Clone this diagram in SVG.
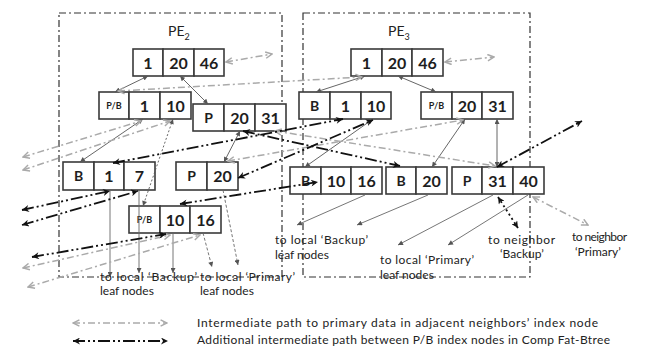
<svg xmlns="http://www.w3.org/2000/svg" width="648" height="346" viewBox="0 0 648 346">
<style>
.pe{fill:none;stroke:#333;stroke-width:1.2;stroke-dasharray:7 3 2 3}
.cell{fill:#fff;stroke:#3a3a3a;stroke-width:1.6}
.num{font-family:Lato,"Liberation Sans",sans-serif;font-weight:bold;font-size:16px;fill:#1e1e1e;text-anchor:middle}
.let{font-family:Lato,"Liberation Sans",sans-serif;font-weight:bold;font-size:14px;fill:#1e1e1e;text-anchor:middle}
.pb{font-family:Lato,"Liberation Sans",sans-serif;font-weight:bold;font-size:9px;fill:#1e1e1e;text-anchor:middle}
.lbl{font-family:Lato,"Liberation Sans",sans-serif;font-size:12px;fill:#222}
.pet{font-family:Lato,"Liberation Sans",sans-serif;font-size:14px;fill:#222}
.tree{fill:none;stroke:#555;stroke-width:0.9;marker-start:url(#ta);marker-end:url(#ta)}
.tree.d{stroke-dasharray:2 2}
.lead{fill:none;stroke:#666;stroke-width:0.9;marker-end:url(#ta)}
.lead.d{stroke-dasharray:3 2}
.gr{fill:none;stroke:#aaa;stroke-width:1.5;stroke-dasharray:7 3 2 3;marker-start:url(#ga);marker-end:url(#ga)}
.bk{fill:none;stroke:#111;stroke-width:1.8;stroke-dasharray:12 3 2 3 2 3;marker-start:url(#ba);marker-end:url(#ba)}
.bk.dot{stroke-dasharray:2 3}
</style>
<defs>
<marker id="ta" viewBox="0 0 10 10" refX="10" refY="5" markerWidth="6" markerHeight="5" markerUnits="userSpaceOnUse" orient="auto-start-reverse"><path d="M0,0 L10,5 L0,10 z" fill="#555"/></marker>
<marker id="ga" viewBox="0 0 10 10" refX="9" refY="5" markerWidth="8" markerHeight="8" markerUnits="userSpaceOnUse" orient="auto-start-reverse"><path d="M1,1 L9,5 L1,9" fill="none" stroke="#aaa" stroke-width="1.8"/></marker>
<marker id="ba" viewBox="0 0 10 10" refX="10" refY="5" markerWidth="9" markerHeight="7" markerUnits="userSpaceOnUse" orient="auto-start-reverse"><path d="M0,0 L10,5 L0,10 L3,5 z" fill="#111"/></marker>
</defs>
<rect width="648" height="346" fill="#fff"/>

<g id="pe2"><rect class="pe" x="59" y="13" width="223" height="264"/><text class="pet" x="168" y="36">PE<tspan font-size="9" dy="4">2</tspan></text></g>
<g id="pe3"><rect class="pe" x="303" y="13" width="227" height="264"/><text class="pet" x="388" y="36">PE<tspan font-size="9" dy="4">3</tspan></text></g>

<g id="n-pe2-root">
<rect class="cell" x="133" y="49" width="30" height="27"/><rect class="cell" x="163" y="49" width="31" height="27"/><rect class="cell" x="194" y="49" width="30" height="27"/>
<text class="num" x="148" y="68.5">1</text><text class="num" x="178.5" y="68.5">20</text><text class="num" x="209" y="68.5">46</text></g>
<g id="n-pe2-pb-1-10">
<rect class="cell" x="99" y="92" width="30" height="27"/><rect class="cell" x="129" y="92" width="31" height="27"/><rect class="cell" x="160" y="92" width="31" height="27"/>
<text class="pb" x="114" y="109">P/B</text><text class="num" x="144.5" y="111.5">1</text><text class="num" x="175.5" y="111.5">10</text></g>
<g id="n-pe2-p-20-31">
<rect class="cell" x="193" y="104" width="31" height="27"/><rect class="cell" x="224" y="104" width="31" height="27"/><rect class="cell" x="255" y="104" width="31" height="27"/>
<text class="let" x="208.5" y="123">P</text><text class="num" x="239.5" y="123.5">20</text><text class="num" x="270.5" y="123.5">31</text></g>
<g id="n-pe2-b-1-7">
<rect class="cell" x="63" y="162" width="31" height="28"/><rect class="cell" x="94" y="162" width="30" height="28"/><rect class="cell" x="124" y="162" width="31" height="28"/>
<text class="let" x="78.5" y="181">B</text><text class="num" x="109" y="181.5">1</text><text class="num" x="139.5" y="181.5">7</text></g>
<g id="n-pe2-p-20">
<rect class="cell" x="176" y="162" width="31" height="28"/><rect class="cell" x="207" y="162" width="31" height="28"/>
<text class="let" x="191.5" y="181">P</text><text class="num" x="222.5" y="181.5">20</text></g>
<g id="n-pe2-pb-10-16">
<rect class="cell" x="129" y="206" width="31" height="27"/><rect class="cell" x="160" y="206" width="30" height="27"/><rect class="cell" x="190" y="206" width="31" height="27"/>
<text class="pb" x="144.5" y="223">P/B</text><text class="num" x="175" y="225.5">10</text><text class="num" x="205.5" y="225.5">16</text></g>

<g id="n-pe3-root">
<rect class="cell" x="351" y="49" width="31" height="27"/><rect class="cell" x="382" y="49" width="30" height="27"/><rect class="cell" x="412" y="49" width="31" height="27"/>
<text class="num" x="366.5" y="68.5">1</text><text class="num" x="397" y="68.5">20</text><text class="num" x="427.5" y="68.5">46</text></g>
<g id="n-pe3-b-1-10">
<rect class="cell" x="299" y="92" width="31" height="27"/><rect class="cell" x="330" y="92" width="31" height="27"/><rect class="cell" x="361" y="92" width="30" height="27"/>
<text class="let" x="314.5" y="111">B</text><text class="num" x="345.5" y="111.5">1</text><text class="num" x="376" y="111.5">10</text></g>
<g id="n-pe3-pb-20-31">
<rect class="cell" x="421" y="92" width="31" height="27"/><rect class="cell" x="452" y="92" width="30" height="27"/><rect class="cell" x="482" y="92" width="31" height="27"/>
<text class="pb" x="436.5" y="109">P/B</text><text class="num" x="467" y="111.5">20</text><text class="num" x="497.5" y="111.5">31</text></g>
<g id="n-pe3-b-10-16">
<rect class="cell" x="290" y="167" width="31" height="27"/><rect class="cell" x="321" y="167" width="30" height="27"/><rect class="cell" x="351" y="167" width="31" height="27"/>
<text class="let" x="305.5" y="186">B</text><text class="num" x="336" y="186.5">10</text><text class="num" x="366.5" y="186.5">16</text></g>
<g id="n-pe3-b-20">
<rect class="cell" x="386" y="167" width="30" height="27"/><rect class="cell" x="416" y="167" width="31" height="27"/>
<text class="let" x="401" y="186">B</text><text class="num" x="431.5" y="186.5">20</text></g>
<g id="n-pe3-p-31-40">
<rect class="cell" x="452" y="167" width="30" height="27"/><rect class="cell" x="482" y="167" width="31" height="27"/><rect class="cell" x="513" y="167" width="31" height="27"/>
<text class="let" x="467" y="186">P</text><text class="num" x="497.5" y="186.5">31</text><text class="num" x="528.5" y="186.5">40</text></g>

<g id="connectors">
<line class="tree" x1="148" y1="76" x2="115" y2="92"/>
<line class="tree" x1="180" y1="76" x2="208" y2="104"/>
<line class="tree" x1="143" y1="119" x2="80" y2="162"/>
<line class="tree d" x1="173" y1="119" x2="143" y2="206"/>
<line class="tree" x1="240" y1="131" x2="224" y2="162"/>
<line class="tree" x1="365" y1="76" x2="316" y2="92"/>
<line class="tree" x1="398" y1="76" x2="436" y2="92"/>
<line class="tree" x1="373" y1="119" x2="305" y2="167"/>
<line class="tree" x1="465" y1="119" x2="432" y2="167"/>
<line class="tree" x1="497" y1="119" x2="497" y2="167"/>

<line class="lead" x1="110" y1="190" x2="110" y2="277"/>
<line class="lead" x1="139" y1="190" x2="139" y2="273"/>
<line class="lead" x1="173" y1="233" x2="173" y2="273"/>
<line class="lead d" x1="203" y1="233" x2="212" y2="267"/>
<line class="lead d" x1="223" y1="190" x2="238" y2="265"/>
<line class="lead" x1="365" y1="195" x2="297" y2="225"/>
<line class="lead" x1="428" y1="195" x2="357" y2="225"/>
<line class="lead" x1="493" y1="195" x2="398" y2="245"/>
<line class="lead" x1="528" y1="195" x2="448" y2="245"/>

<line class="gr" x1="226" y1="62" x2="272" y2="54"/>
<line class="gr" x1="445" y1="62" x2="494" y2="57"/>
<line class="gr" x1="118" y1="91" x2="362" y2="77"/>
<line class="gr" x1="23" y1="157" x2="141" y2="121"/>
<line class="gr" x1="23" y1="170" x2="170" y2="121"/>
<line class="gr" x1="228" y1="161" x2="463" y2="120"/>
<line class="gr" x1="275" y1="131" x2="495" y2="166"/>
<line class="gr" x1="533" y1="197" x2="588" y2="225"/>
<line class="gr" x1="23" y1="268" x2="170" y2="235"/>
<line class="gr" x1="28" y1="287" x2="200" y2="235"/>

<line class="bk" x1="113" y1="163" x2="343" y2="119"/>
<line class="bk" x1="243" y1="131" x2="400" y2="166"/>
<line class="bk" x1="238" y1="178" x2="373" y2="120"/>
<line class="bk" x1="180" y1="204" x2="318" y2="182"/>
<line class="bk" x1="22" y1="210" x2="110" y2="191"/>
<line class="bk" x1="22" y1="225" x2="138" y2="191"/>
<line class="bk" x1="32" y1="257" x2="166" y2="234"/>
<line class="bk" x1="497" y1="167" x2="582" y2="121"/>
<line class="bk dot" x1="498" y1="197" x2="518" y2="228"/>

<line class="gr" x1="73" y1="323" x2="167" y2="323"/>
<line class="bk" x1="73" y1="341" x2="168" y2="341"/>
</g>

<g id="labels">
<text class="lbl" x="100" y="281" textLength="97">to local ‘Backup’</text>
<text class="lbl" x="100" y="295">leaf nodes</text>
<text class="lbl" x="200" y="281" textLength="95">to local ‘Primary’</text>
<text class="lbl" x="200" y="295">leaf nodes</text>
<text class="lbl" x="275" y="244" textLength="93">to local ‘Backup’</text>
<text class="lbl" x="275" y="259">leaf nodes</text>
<text class="lbl" x="380" y="264" textLength="94">to local ‘Primary’</text>
<text class="lbl" x="380" y="279">leaf nodes</text>
<text class="lbl" x="488" y="244" textLength="67">to neighbor</text>
<text class="lbl" x="500" y="258">‘Backup’</text>
<text class="lbl" x="572" y="241" textLength="55">to neighbor</text>
<text class="lbl" x="575" y="256">‘Primary’</text>
<text class="lbl" x="197" y="327" textLength="401">Intermediate path to primary data in adjacent neighbors’  index node</text>
<text class="lbl" x="197" y="343.5" font-size="11.5" textLength="413">Additional intermediate path between P/B index nodes in Comp Fat-Btree</text>
</g>
</svg>
